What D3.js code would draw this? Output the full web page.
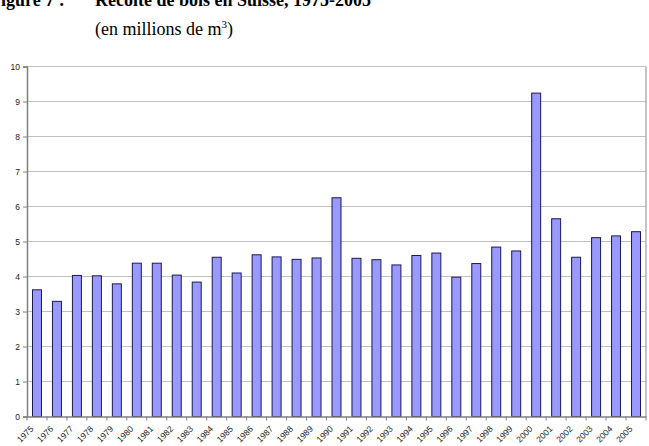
<!DOCTYPE html>
<html><head><meta charset="utf-8">
<script src="https://cdn.jsdelivr.net/npm/d3@7"></script>
<style>body{margin:0;background:#fff}</style>
</head><body>
<svg id="c" width="649" height="446"></svg>
<script>
const years = ["1975","1976","1977","1978","1979","1980","1981","1982","1983","1984","1985","1986","1987","1988","1989","1990","1991","1992","1993","1994","1995","1996","1997","1998","1999","2000","2001","2002","2003","2004","2005"];
const harvest = [3.62,3.29,4.03,4.02,3.79,4.38,4.38,4.04,3.84,4.55,4.10,4.62,4.56,4.49,4.53,6.25,4.52,4.48,4.33,4.60,4.67,3.98,4.37,4.84,4.73,9.24,5.65,4.55,5.11,5.16,5.28];
const yTicks = [0,1,2,3,4,5,6,7,8,9,10];

const svg = d3.select("#c");
const m = {l:27, r:3, t:66.5, b:29.5};
const W = 649, H = 446;
const x = d3.scaleBand().domain(years).range([m.l, W - m.r]).paddingInner(0.55).paddingOuter(0.275);
const xb = d3.scaleBand().domain(years).range([m.l, W - m.r]);
const y = d3.scaleLinear().domain([0,10]).range([H - m.b, m.t]);

// title
svg.append("text").attr("x",-10).attr("y",6).attr("font-family","Liberation Serif, Times New Roman, serif")
  .attr("font-weight","bold").attr("font-size",18).attr("fill","#000").text("Figure 7 :");
svg.append("text").attr("x",95).attr("y",6).attr("font-family","Liberation Serif, Times New Roman, serif")
  .attr("font-weight","bold").attr("font-size",18).attr("fill","#000").text("Récolte de bois en Suisse, 1975-2005");
const sub = svg.append("text").attr("x",95).attr("y",35).attr("font-family","Liberation Serif, Times New Roman, serif")
  .attr("font-size",18).attr("fill","#000");
sub.append("tspan").text("(en millions de m");
sub.append("tspan").attr("font-size",11).attr("dy",-7).text("3");
sub.append("tspan").attr("dy",7).text(")");

// gridlines
svg.append("g").selectAll("line").data(yTicks.filter(d=>d>0)).join("line")
  .attr("x1",m.l).attr("x2",W-m.r).attr("y1",d=>y(d)).attr("y2",d=>y(d))
  .attr("stroke","#c0c0c0").attr("stroke-width",1);
// right border
svg.append("line").attr("x1",W-m.r).attr("x2",W-m.r).attr("y1",m.t).attr("y2",H-m.b)
  .attr("stroke","#b0b0b0").attr("stroke-width",1.5);

// bars
svg.append("g").selectAll("rect").data(harvest).join("rect")
  .attr("x",(d,i)=>x(years[i])).attr("width",x.bandwidth())
  .attr("y",d=>y(d)).attr("height",d=>y(0)-y(d))
  .attr("fill","#9999ff").attr("stroke","#1a1a4d").attr("stroke-width",1);

// y axis
const ya = svg.append("g").attr("transform",`translate(${m.l},0)`)
  .call(d3.axisLeft(y).tickValues(yTicks).tickSize(4).tickPadding(3));
ya.select(".domain").attr("stroke","#808080").attr("stroke-width",1.5);
ya.selectAll(".tick line").attr("stroke","#808080");
ya.selectAll("text").attr("font-family","Liberation Sans, Arial, sans-serif").attr("font-size",8.5).attr("fill","#222");

// x axis
const xa = svg.append("g").attr("transform",`translate(0,${H-m.b})`)
  .call(d3.axisBottom(xb).tickSize(0).tickFormat(""));
xa.select(".domain").attr("stroke","#808080").attr("stroke-width",1.5);
xa.selectAll(".tick").remove();
svg.append("g").selectAll("line").data(years.concat(["end"])).join("line")
  .attr("x1",(d,i)=>m.l + i*xb.step()).attr("x2",(d,i)=>m.l + i*xb.step())
  .attr("y1",H-m.b).attr("y2",H-m.b+4).attr("stroke","#808080");
svg.append("g").selectAll("text").data(years).join("text")
  .attr("transform",d=>`translate(${xb(d)+xb.bandwidth()/2-3},${H-m.b+13}) rotate(-45)`)
  .attr("text-anchor","end")
  .attr("font-family","Liberation Sans, Arial, sans-serif").attr("font-size",8.5).attr("fill","#222")
  .text(d=>d);
</script>
</body></html>
